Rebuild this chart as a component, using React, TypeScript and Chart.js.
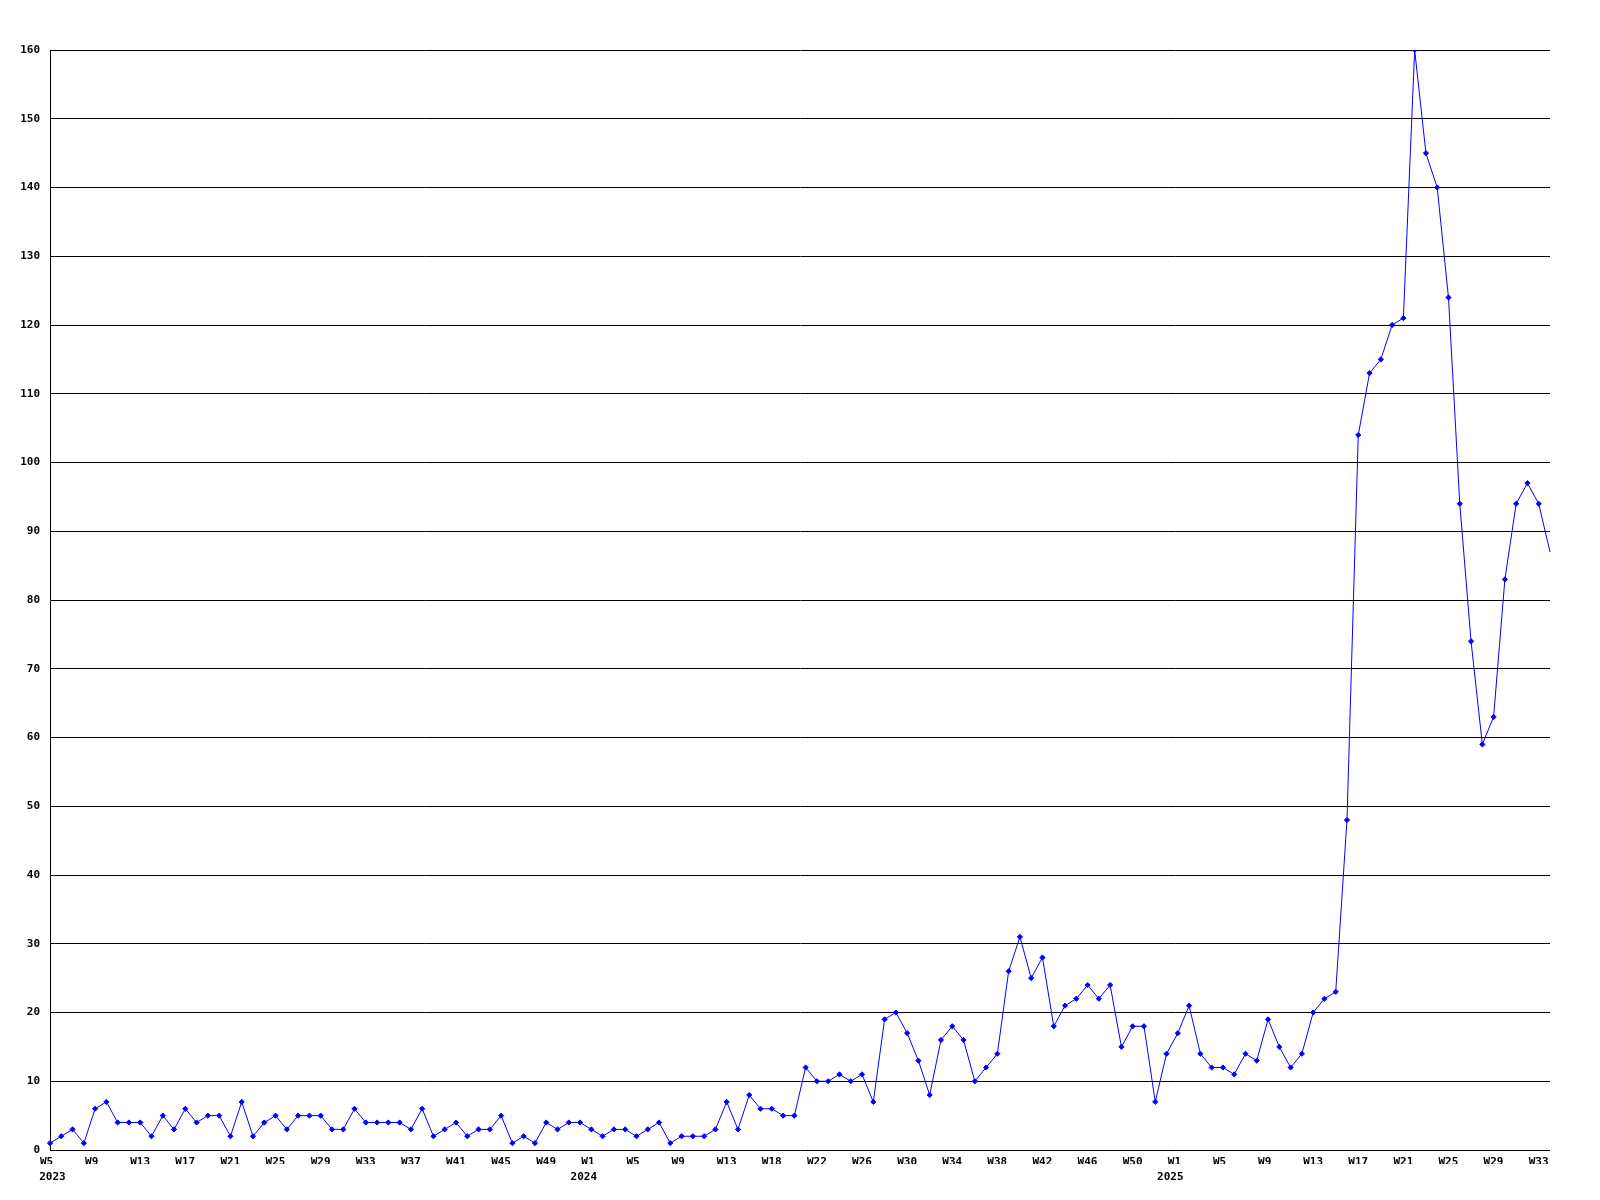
import { useEffect, useRef } from 'react';
import { Chart, registerables } from 'chart.js';

Chart.register(...registerables);

// ISO-like week numbers shown on the x axis, one entry per data point
const weeks2023 = [5, 6, 7, 8, 9, 10, 11, 12, 13, 14, 15, 16, 17, 18, 19, 20, 21, 22, 23, 24, 25, 26, 27, 28, 29, 30, 31, 32, 33, 34, 35, 36, 37, 38, 39, 40, 41, 42, 43, 44, 45, 46, 47, 48, 49, 50, 51, 52];
const weeks2024 = [1, 2, 3, 4, 5, 6, 7, 8, 9, 10, 11, 12, 13, 15, 16, 17, 18, 19, 20, 21, 22, 23, 24, 25, 26, 27, 28, 29, 30, 31, 32, 33, 34, 35, 36, 37, 38, 39, 40, 41, 42, 43, 44, 45, 46, 47, 48, 49, 50, 51, 52, 53];
const weeks2025 = [1, 2, 3, 4, 5, 6, 7, 8, 9, 10, 11, 12, 13, 14, 15, 16, 17, 18, 19, 20, 21, 22, 23, 24, 25, 26, 27, 28, 29, 30, 31, 32, 33, 34];

// weekly counts
const values2023 = [1, 2, 3, 1, 6, 7, 4, 4, 4, 2, 5, 3, 6, 4, 5, 5, 2, 7, 2, 4, 5, 3, 5, 5, 5, 3, 3, 6, 4, 4, 4, 4, 3, 6, 2, 3, 4, 2, 3, 3, 5, 1, 2, 1, 4, 3, 4, 4];
const values2024 = [3, 2, 3, 3, 2, 3, 4, 1, 2, 2, 2, 3, 7, 3, 8, 6, 6, 5, 5, 12, 10, 10, 11, 10, 11, 7, 19, 20, 17, 13, 8, 16, 18, 16, 10, 12, 14, 26, 31, 25, 28, 18, 21, 22, 24, 22, 24, 15, 18, 18, 7, 14];
const values2025 = [17, 21, 14, 12, 12, 11, 14, 13, 19, 15, 12, 14, 20, 22, 23, 48, 104, 113, 115, 120, 121, 160, 145, 140, 124, 94, 74, 59, 63, 83, 94, 97, 94, 87];

const years = ['2023', '2024', '2025'];
const yMin = 0;
const yMax = 160;
const yStep = 10;
const labelEvery = 4;

const weekGroups = [weeks2023, weeks2024, weeks2025];
const valueGroups = [values2023, values2024, values2025];

const weekOf: number[] = [];
const yearOf: string[] = [];
const firstOfYear: boolean[] = [];
weekGroups.forEach((ws, gi) => {
  ws.forEach((w, wi) => {
    weekOf.push(w);
    yearOf.push(years[gi]);
    firstOfYear.push(wi === 0);
  });
});
const categories = weekOf.map((w, i) => `${yearOf[i]}-W${w}`);
const values = valueGroups.flat();

const tickFont = { family: '"DejaVu Sans Mono", "Liberation Mono", monospace', size: 11, weight: 'bold' as const };

export default function App() {
  const ref = useRef<HTMLCanvasElement>(null);

  useEffect(() => {
    if (!ref.current) return;
    const last = values.length - 1;
    const chart = new Chart(ref.current, {
      type: 'line',
      data: {
        labels: categories,
        datasets: [
          {
            data: values,
            borderColor: '#0000ff',
            backgroundColor: '#0000ff',
            borderWidth: 1,
            tension: 0,
            pointStyle: 'rectRot',
            pointRadius: (ctx: any) => (ctx.dataIndex === last ? 0 : 2.6),
            pointBorderWidth: 1,
            pointBackgroundColor: '#0000ff',
            pointBorderColor: '#0000ff',
            fill: false,
            xAxisID: 'x',
            yAxisID: 'y',
          },
        ],
      },
      options: {
        responsive: false,
        maintainAspectRatio: false,
        animation: false,
        devicePixelRatio: 1,
        layout: { padding: { top: 50, right: 50, left: 0, bottom: 0 } },
        plugins: {
          legend: { display: false },
          tooltip: { enabled: false },
          title: { display: false },
        },
        scales: {
          x: {
            type: 'category',
            position: 'bottom',
            weight: 1,
            offset: false,
            grid: { display: false, drawTicks: false },
            border: { display: false },
            ticks: {
              autoSkip: false,
              maxRotation: 0,
              minRotation: 0,
              align: 'start',
              labelOffset: -10,
              padding: 6,
              color: '#000',
              font: tickFont,
              callback: (_v: any, i: number) => (i % labelEvery === 0 ? 'W' + weekOf[i] : ''),
            },
            afterFit: (s: any) => {
              s.height = 14;
            },
          },
          xYear: {
            type: 'category',
            position: 'bottom',
            weight: 2,
            offset: false,
            grid: { display: false, drawTicks: false },
            border: { display: false },
            ticks: {
              autoSkip: false,
              maxRotation: 0,
              minRotation: 0,
              labelOffset: -7.5,
              padding: 7,
              color: '#000',
              font: tickFont,
              callback: (_v: any, i: number) =>
                firstOfYear[i] ? (i === 0 ? '   ' + yearOf[i] : yearOf[i]) : '',
            },
            afterFit: (s: any) => {
              s.height = 36;
            },
          },
          y: {
            min: yMin,
            max: yMax,
            ticks: {
              stepSize: yStep,
              padding: 10,
              color: '#000',
              font: tickFont,
            },
            grid: { color: '#000', lineWidth: 1, drawTicks: false },
            border: { display: true, color: '#000', width: 1 },
            afterFit: (s: any) => {
              s.width = 50;
            },
          },
        },
      } as any,
    });
    return () => chart.destroy();
  }, []);

  return (
    <div style={{ position: 'absolute', left: 0, top: 0, width: 1600, height: 1200, background: '#fff' }}>
      <canvas ref={ref} width={1600} height={1200} style={{ display: 'block', width: 1600, height: 1200 }} />
    </div>
  );
}
